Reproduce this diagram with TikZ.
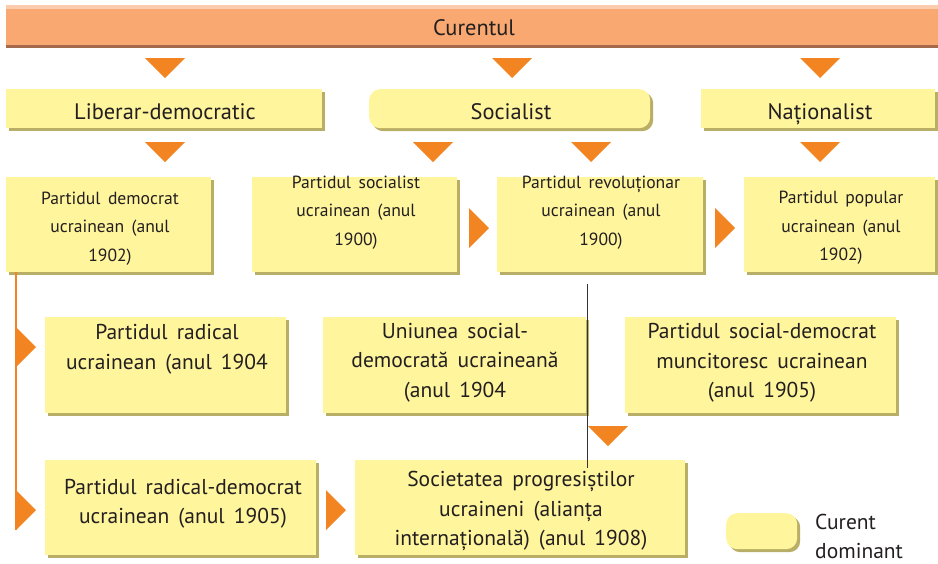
\documentclass[tikz,border=0pt]{standalone}
\usepackage{fontspec}
\setmainfont[WordSpace=1.6]{PT Sans}
\usetikzlibrary{shadows,calc}
\definecolor{boxy}{HTML}{FFF59D}
\definecolor{boxs}{HTML}{B9AE66}
\definecolor{tric}{HTML}{F28522}
\definecolor{barc}{HTML}{F8A870}
\definecolor{barl}{HTML}{FBCDAE}
\definecolor{bard}{HTML}{A3694A}
\definecolor{txt}{HTML}{231F20}
\definecolor{gline}{HTML}{333333}
\tikzset{
  face/.style={fill=boxy, draw=none, anchor=north west, inner sep=0pt,
    general shadow={fill=boxs, shadow xshift=3pt, shadow yshift=-3pt}},
  rface/.style={face, rounded corners=11pt},
  lbl/.style={text=txt, align=center, inner sep=0pt},
  hfont/.style={font=\fontsize{22.4}{26}\selectfont},
  sfont/.style={font=\fontsize{17.6}{28.5}\selectfont},
  mfont/.style={font=\fontsize{21.5}{29.5}\selectfont},
  orline/.style={draw=tric, line width=2.2pt},
  dtri/.pic={\fill[tric] (-20,-10) -- (20,-10) -- (0,10) -- cycle;},
  rtri/.pic={\fill[tric] (-10,-20) -- (-10,20) -- (10,0) -- cycle;}
}
\begin{document}
\begin{tikzpicture}[x=1pt,y=-1pt]
\useasboundingbox (0,0) rectangle (938,563);
% top bar
\node[anchor=north west, fill=barc, inner sep=0pt, minimum width=932pt, minimum height=43pt] (cur) at (6,5) {};
\fill[barl] (cur.north west) rectangle ($(cur.north east)+(0,4)$);
\fill[bard] ($(cur.south west)+(0,-3)$) rectangle (cur.south east);
\node[lbl, hfont, anchor=base] (curt) at (474,35.5) {Curentul};
% second row
\node[face, minimum width=316pt, minimum height=39pt] (lib) at (6,89) {};
\node[rface, minimum width=281pt, minimum height=39pt] (soc) at (369,89) {};
\node[face, minimum width=234pt, minimum height=39pt] (nat) at (701,89) {};
\node[lbl, hfont, anchor=base] (libt) at (165,119) {Liberar-democratic};
\node[lbl, hfont, anchor=base] (soct) at (511,119) {Socialist};
\node[lbl, hfont, anchor=base] (natt) at (820,119) {Naționalist};
% third row
\node[face, minimum width=205pt, minimum height=95pt] (pa) at (6,177) {};
\node[face, minimum width=205pt, minimum height=95pt] (pb) at (252,177) {};
\node[face, minimum width=206pt, minimum height=95pt] (pc) at (497,177) {};
\node[face, minimum width=191pt, minimum height=95pt] (pd) at (744,177) {};
\node[lbl, sfont] (pat) at (110,228.5) {Partidul democrat\\ucrainean (anul\\1902)};
\node[lbl, sfont] (pbt) at (356,212.5) {Partidul socialist\\ucrainean (anul\\1900)};
\node[lbl, sfont] (pct) at (601,212.5) {Partidul revoluționar\\ucrainean (anul\\1900)};
\node[lbl, sfont] (pdt) at (841,228) {Partidul popular\\ucrainean (anul\\1902)};
% fourth row
\node[face, minimum width=241pt, minimum height=96pt] (ra) at (45,317) {};
\node[face, minimum width=263pt, minimum height=96pt] (un) at (323,317) {};
\node[face, minimum width=271pt, minimum height=96pt] (ps) at (625,317) {};
\node[lbl, mfont] (rat) at (167,349) {Partidul radical\\ucrainean (anul 1904};
\node[lbl, mfont] (unt) at (455,362.5) {Uniunea social-\\democrată ucraineană\\(anul 1904};
\node[lbl, mfont] (pst) at (762,363) {Partidul social-democrat\\muncitoresc ucrainean\\(anul 1905)};
% fifth row
\node[face, minimum width=271pt, minimum height=95pt] (rd) at (45,460) {};
\node[face, minimum width=330pt, minimum height=95pt] (so) at (355,460) {};
\node[lbl, mfont] (rdt) at (183,503.5) {Partidul radical-democrat\\ucrainean (anul 1905)};
\node[lbl, mfont] (sot) at (521,511) {Societatea progresiștilor\\ucraineni (alianța\\internațională) (anul 1908)};
% legend
\node[rface, minimum width=71pt, minimum height=36pt] (leg) at (726,513) {};
\node[lbl, mfont, align=left, anchor=west] (legt) at (815,536.5) {Curent\\dominant};
% connectors
\coordinate (lend) at (16,530);
\draw[orline] (pa.south -| lend) -- (lend);
\coordinate (g1) at (587,284);
\coordinate (g2) at (587,468);
\draw[gline, line width=1pt] (g1) -- (g2);
% triangles
\pic at (165,68) {dtri};
\pic at (512,68) {dtri};
\pic at (820,68) {dtri};
\pic at (165,152) {dtri};
\pic at (433,152) {dtri};
\pic at (591,152) {dtri};
\pic at (820,152) {dtri};
\pic at (479,228) {rtri};
\pic at (725,228) {rtri};
\pic at (26,347) {rtri};
\pic at (26,510) {rtri};
\pic at (336,510) {rtri};
\pic at (608,436) {dtri};
\end{tikzpicture}
\end{document}
